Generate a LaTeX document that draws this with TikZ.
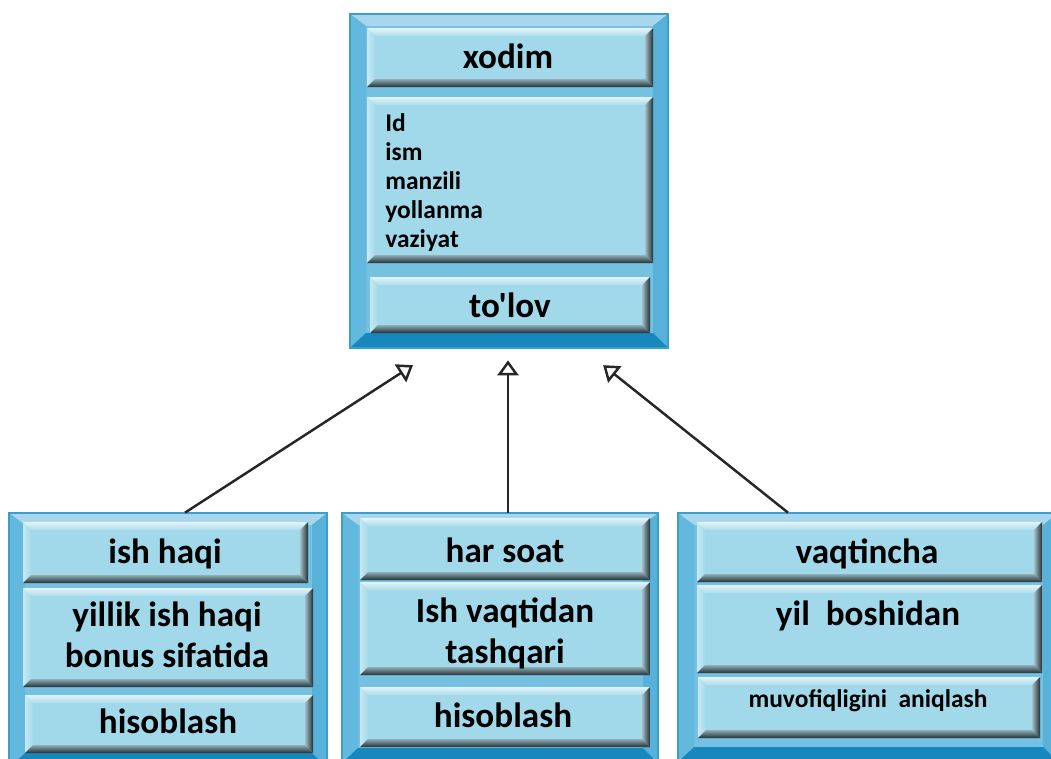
\documentclass[tikz,border=0pt]{standalone}
\usepackage{fontspec}
\setmainfont{Carlito}[Ligatures=TeXOff]
\usetikzlibrary{arrows.meta,fit}

\definecolor{oface}{HTML}{74C1E2}
\definecolor{otop}{HTML}{A8D6EC}
\definecolor{oleft}{HTML}{62B8DD}
\definecolor{oright}{HTML}{57B1D8}
\definecolor{obot}{HTML}{1787BE}
\definecolor{oline}{HTML}{3A9FCB}
\definecolor{pface}{HTML}{A2D9EA}

% outer frame: name, left, top, right, bottom (px)
\newcommand{\outerframe}[5]{%
  \fill[oface] (#2,#3) rectangle (#4,#5);
  \fill[otop] (#2,#3) -- (#4,#3) -- (#4-15,#3+12) -- (#2+16,#3+12) -- cycle;
  \fill[oleft] (#2,#3) -- (#2+16,#3+12) -- (#2+16,#5-15) -- (#2,#5) -- cycle;
  \fill[oright] (#4,#3) -- (#4-15,#3+12) -- (#4-15,#5-15) -- (#4,#5) -- cycle;
  \fill[obot] (#2,#5) -- (#2+16,#5-15) -- (#4-15,#5-15) -- (#4,#5) -- cycle;
  \draw[oline, line width=0.6pt] (#2,#3) rectangle (#4,#5);
  \node[fit={(#2,#3) (#4,#5)}, inner sep=0pt] (#1) {};
}
% bevelled panel: name, left, top, right, bottom (px)
\newcommand{\panel}[5]{%
  \fill[pface] (#2,#3) rectangle (#4,#5);
  \shade[top color=pface!30!white, bottom color=pface!90!white] (#2,#3) -- (#4,#3) -- (#4-8,#3+8) -- (#2+8,#3+8) -- cycle;
  \shade[left color=pface!60!white, right color=pface] (#2,#3) -- (#2+8,#3+8) -- (#2+8,#5-8) -- (#2,#5) -- cycle;
  \shade[left color=pface!75!black!70, right color=black!50!pface!45!black] (#4,#3) -- (#4-8,#3+8) -- (#4-8,#5-8) -- (#4,#5) -- cycle;
  \shade[top color=pface!70!black!80, bottom color=black!50!pface!45!black] (#2,#5) -- (#2+8,#5-8) -- (#4-8,#5-8) -- (#4,#5) -- cycle;
  \node[fit={(#2,#3) (#4,#5)}, inner sep=0pt] (#1) {};
}

\begin{document}
\begin{tikzpicture}[x=0.02cm, y=-0.02cm,
  lbl/.style={font=\fontsize{20}{23}\selectfont\bfseries, anchor=base, inner sep=0pt, align=center},
  attr/.style={font=\fontsize{14.5}{16}\selectfont\bfseries, anchor=base west, inner sep=0pt},
  small/.style={font=\fontsize{14.5}{16}\selectfont\bfseries, anchor=base, inner sep=0pt},
  gen/.style={draw=black!85, line width=1.4pt, -{Triangle[open, length=0.3cm, width=0.42cm]}}
]
\clip (0,0) rectangle (1051,758);

%% Superclass
\outerframe{emp}{350}{14}{668}{348}
\panel{empname}{367}{28}{653}{87}
\panel{empattr}{367}{97}{653}{263}
\panel{empop}{370}{277}{650}{333}

%% Subclasses
\outerframe{sal}{9}{513}{327}{768}
\panel{salname}{23}{522}{308}{583}
\panel{salattr}{23}{588}{313}{687}
\panel{salop}{25}{695}{313}{753}

\outerframe{hr}{342}{513}{658}{763}
\panel{hrname}{360}{518}{650}{580}
\panel{hrattr}{360}{582}{650}{675}
\panel{hrop}{360}{687}{650}{747}

\outerframe{tmp}{678}{513}{1058}{762}
\panel{tmpname}{697}{522}{1042}{582}
\panel{tmpattr}{697}{585}{1042}{673}
\panel{tmpop}{698}{677}{1040}{738}

%% Texts
\node[lbl] (t-emp) at (508,68) {xodim};
\foreach \t [count=\i] in {Id,ism,manzili,yollanma,vaziyat} {
  \node[attr] (a\i) at (385,{131+29*(\i-1)}) {\t};
}
\node[lbl] (t-pay) at (510,317) {to'lov};

\node[lbl] (t-sal) at (165,563) {ish haqi};
\node[lbl] (t-sala) at (167,667) {yillik ish haqi\\bonus sifatida};
\node[lbl] (t-salo) at (168,733) {hisoblash};

\node[lbl] (t-hr) at (505,562) {har soat};
\node[lbl] (t-hra) at (505,663) {Ish vaqtidan\\tashqari};
\node[lbl] (t-hro) at (503,727) {hisoblash};

\node[lbl] (t-tmp) at (867,563) {vaqtincha};
\node[lbl] (t-tmpa) at (868,625) {yil\ \ boshidan};
\node[small] (t-tmpo) at (868,707) {muvofiqligini\ \ aniqlash};

%% Generalisation arrows
\draw[gen, shorten >=0.62cm] (sal.north -| 185,0) -- (emp.south -| 439,0);
\draw[gen, shorten >=0.24cm] (hr.north -| 508,0) -- (emp.south -| 508,0);
\draw[gen, shorten >=0.54cm] (tmp.north -| 788,0) -- (emp.south -| 582,0);
\end{tikzpicture}
\end{document}
